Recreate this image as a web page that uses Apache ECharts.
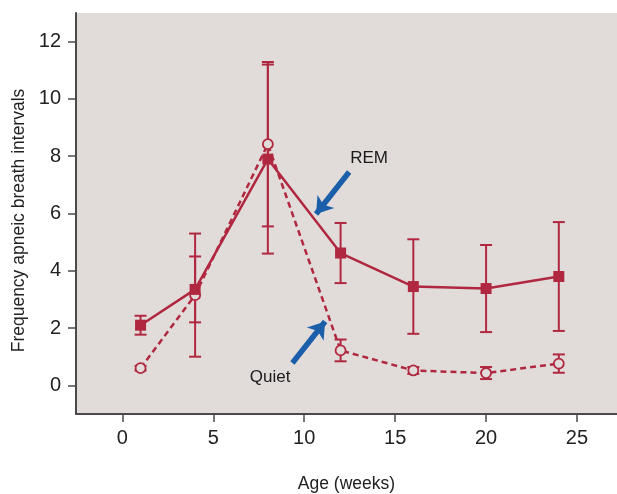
<!DOCTYPE html>
<html>
<head>
<meta charset="utf-8">
<script src="https://cdn.jsdelivr.net/npm/echarts@6/dist/echarts.min.js"></script>
<style>
  html, body { margin: 0; padding: 0; background: #ffffff; }
  #chart { width: 617px; height: 494px; }
</style>
</head>
<body>
<div id="chart"></div>
<script>
// Age in weeks at which apneic intervals were counted
const weeks = [1, 4, 8, 12, 16, 20, 24];

// REM sleep: mean frequency and error half-width
const remMean = [2.1, 3.35, 7.9, 4.62, 3.45, 3.38, 3.8];
const remErr  = [0.33, 1.15, 3.3, 1.05, 1.65, 1.52, 1.9];

// Quiet sleep: mean frequency and error half-width
const quietMean = [0.6, 3.15, 8.42, 1.22, 0.52, 0.43, 0.76];
const quietErr  = [0.08, 2.15, 2.87, 0.38, 0.12, 0.21, 0.32];

// Tick labels
const xTicks = [0, 5, 10, 15, 20, 25];
const yTicks = [0, 2, 4, 6, 8, 10, 12];

// Annotation arrows (tail -> head, data space) and their captions
const remArrow   = [[12.47, 7.45], [10.65, 5.98]];
const quietArrow = [[9.35, 0.78], [11.15, 2.23]];
const remCaption   = [13.57, 7.93];
const quietCaption = [8.12, 0.27];

const RED = '#b0283f';
const BLUE = '#1b5faa';
const BG = '#e1dcda';
const FONT = 'Liberation Sans, Arial, sans-serif';

function errorBars(means, errs) {
  return weeks.map((w, i) => [w, means[i] - errs[i], means[i] + errs[i]]);
}

function renderErrorBar(params, api) {
  const x = api.value(0);
  const top = api.coord([x, api.value(2)]);
  const bot = api.coord([x, api.value(1)]);
  const half = 6;
  const style = { stroke: RED, lineWidth: 2, fill: null };
  return {
    type: 'group',
    children: [
      { type: 'line', shape: { x1: top[0], y1: top[1], x2: bot[0], y2: bot[1] }, style },
      { type: 'line', shape: { x1: top[0] - half, y1: top[1], x2: top[0] + half, y2: top[1] }, style },
      { type: 'line', shape: { x1: bot[0] - half, y1: bot[1], x2: bot[0] + half, y2: bot[1] }, style }
    ]
  };
}

const chart = echarts.init(document.getElementById('chart'), null, { renderer: 'canvas' });

const axisText = { color: '#222', fontSize: 20, fontFamily: FONT };

chart.setOption({
  animation: false,
  backgroundColor: '#ffffff',
  grid: {
    left: 76, right: 0, top: 13, bottom: 80,
    outerBoundsMode: 'none',
    containLabel: false,
    show: true, backgroundColor: BG, borderWidth: 0
  },
  xAxis: {
    type: 'value',
    min: -2.55, max: 27.2,
    name: 'Age (weeks)',
    nameLocation: 'middle',
    nameGap: 61,
    nameTextStyle: { color: '#222', fontSize: 17.5, fontFamily: FONT },
    axisLine: { show: true, onZero: false, lineStyle: { color: '#4a4a4a', width: 2 } },
    axisTick: { show: true, inside: false, length: 8, customValues: xTicks, lineStyle: { color: '#4a4a4a', width: 1.5 } },
    axisLabel: Object.assign({ margin: 14, customValues: xTicks }, axisText),
    splitLine: { show: false }
  },
  yAxis: {
    type: 'value',
    min: -1, max: 13,
    name: 'Frequency apneic breath intervals',
    nameLocation: 'middle',
    nameGap: 47,
    nameTextStyle: { color: '#222', fontSize: 17.5, fontFamily: FONT, padding: [0, 14, 0, 0] },
    axisLine: { show: true, onZero: false, lineStyle: { color: '#4a4a4a', width: 2 } },
    axisTick: { show: true, inside: false, length: 8, customValues: yTicks, lineStyle: { color: '#4a4a4a', width: 1.5 } },
    axisLabel: Object.assign({ margin: 15, customValues: yTicks }, axisText),
    splitLine: { show: false }
  },
  series: [
    {
      name: 'REM error',
      type: 'custom',
      renderItem: renderErrorBar,
      data: errorBars(remMean, remErr),
      z: 2
    },
    {
      name: 'Quiet error',
      type: 'custom',
      renderItem: renderErrorBar,
      data: errorBars(quietMean, quietErr),
      z: 2
    },
    {
      name: 'Quiet',
      type: 'line',
      data: weeks.map((w, i) => [w, quietMean[i]]),
      symbol: 'circle',
      symbolSize: 10,
      showSymbol: true,
      lineStyle: { color: RED, width: 2.5, type: [6, 4] },
      itemStyle: { color: BG, borderColor: RED, borderWidth: 1.8 },
      z: 3,
      markLine: {
        silent: true,
        symbol: ['none', 'arrow'],
        symbolSize: [16, 16],
        label: { show: false },
        lineStyle: { color: BLUE, width: 5.5, type: 'solid', opacity: 1 },
        data: [
          [{ coord: remArrow[0] }, { coord: remArrow[1] }],
          [{ coord: quietArrow[0] }, { coord: quietArrow[1] }]
        ]
      }
    },
    {
      name: 'REM',
      type: 'line',
      data: weeks.map((w, i) => [w, remMean[i]]),
      symbol: 'rect',
      symbolSize: 11,
      showSymbol: true,
      lineStyle: { color: RED, width: 2.5 },
      itemStyle: { color: RED, borderWidth: 0 },
      z: 4
    },
    {
      name: 'Captions',
      type: 'scatter',
      symbolSize: 0,
      silent: true,
      itemStyle: { opacity: 1 },
      data: [
        { value: remCaption, name: 'REM' },
        { value: quietCaption, name: 'Quiet' }
      ],
      label: {
        show: true,
        position: 'inside',
        formatter: p => p.name,
        color: '#1a1a1a',
        opacity: 1,
        fontSize: 17,
        fontFamily: FONT
      },
      z: 5
    }
  ]
});
</script>
</body>
</html>
